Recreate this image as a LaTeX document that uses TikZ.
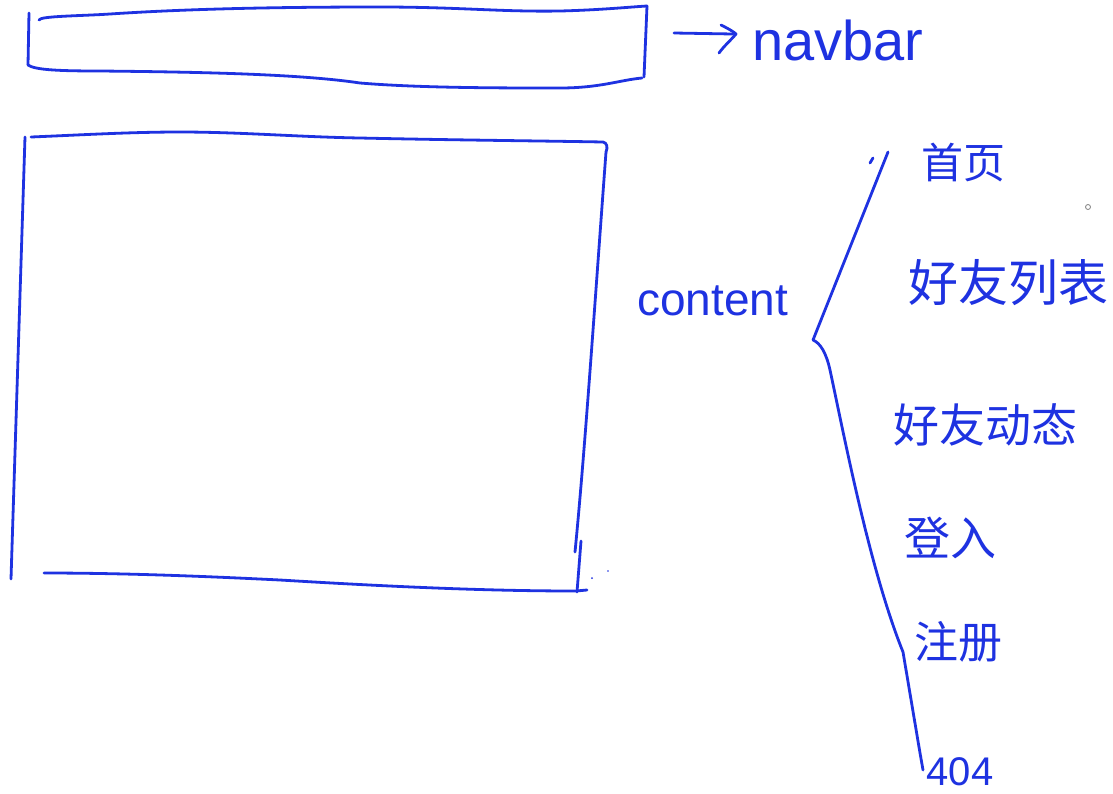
\documentclass[tikz,border=0pt]{standalone}
\usepackage{fontspec}
\setmainfont{Liberation Sans}
\newfontfamily\cjk{Noto Sans CJK SC}
\definecolor{ink}{RGB}{30,50,225}
\begin{document}
\begin{tikzpicture}[x=1pt,y=-1pt,
  pen/.style={draw=ink,line width=2.8pt,line cap=round,line join=round},
  lbl/.style={text=ink,inner sep=0pt},
  cn/.style={lbl,font=\cjk\fontsize{#1}{#1}\selectfont}]
\useasboundingbox[fill=white] (0,0) rectangle (1113,793);
% navbar box
\draw[pen] (39,20) .. controls (40,16) and (80,16) .. (110,14)
  .. controls (200,8) and (300,7) .. (380,7)
  .. controls (460,7) and (500,12) .. (560,11)
  .. controls (600,10) and (630,7) .. (647,6);
\draw[pen] (29,13) -- (28,65);
\draw[pen] (647,6) -- (644,77);
\draw[pen] (28,65) .. controls (35,70) and (60,71) .. (100,71)
  .. controls (200,72) and (300,74) .. (360,83)
  .. controls (420,88) and (500,88) .. (560,88)
  .. controls (600,88) and (620,80) .. (642,78);
% arrow to navbar label
\coordinate (arrS) at (674,33);
\coordinate (arrE) at (733,34);
\draw[pen] (arrS) -- (arrE);
\draw[pen] (721,25) .. controls (729,29) and (734,32) .. (736,34) .. controls (731,40) and (724,46) .. (719,53);
\node[lbl,font=\fontsize{56}{60}\selectfont,anchor=base west] (nav) at (752,60) {navbar};
% content box
\draw[pen] (31,137) .. controls (80,135) and (130,132) .. (180,132)
  .. controls (240,132) and (300,137) .. (360,138)
  .. controls (450,140) and (550,141) .. (603,142)
  .. controls (607,143) and (608,147) .. (606,152);
\draw[pen] (25,137) -- (11,579);
\draw[pen] (606,152) .. controls (595,300) and (585,450) .. (575,552);
\draw[pen] (581,541) -- (577,592);
\draw[pen] (44,573) .. controls (120,573) and (200,576) .. (280,580)
  .. controls (380,586) and (480,591) .. (576,591) -- (587,590);
\fill[ink] (592,578) circle (1pt) (608,571) circle (0.8pt);
\node[lbl,font=\fontsize{46}{50}\selectfont,anchor=base west] (content) at (637,315) {content};
% brace
\draw[pen] (870,163) -- (873,158);
\draw[pen] (888,152) -- (813,340)
  .. controls (820,343) and (826,352) .. (830,370)
  .. controls (845,440) and (870,570) .. (903,652)
  -- (920,753) -- (923,770);
\draw[gray,line width=0.8pt] (1088,207) circle (2.5pt);
% items
\node[cn=42] (home) at (963,163) {首页};
\node[cn=50] (friends) at (1008,283) {好友列表};
\node[cn=46] (feed) at (985,425) {好友动态};
\node[cn=46] (login) at (950,538) {登入};
\node[cn=44] (register) at (958,642) {注册};
\node[lbl,font=\fontsize{40}{44}\selectfont] (notfound) at (960,772) {404};
\end{tikzpicture}
\end{document}
